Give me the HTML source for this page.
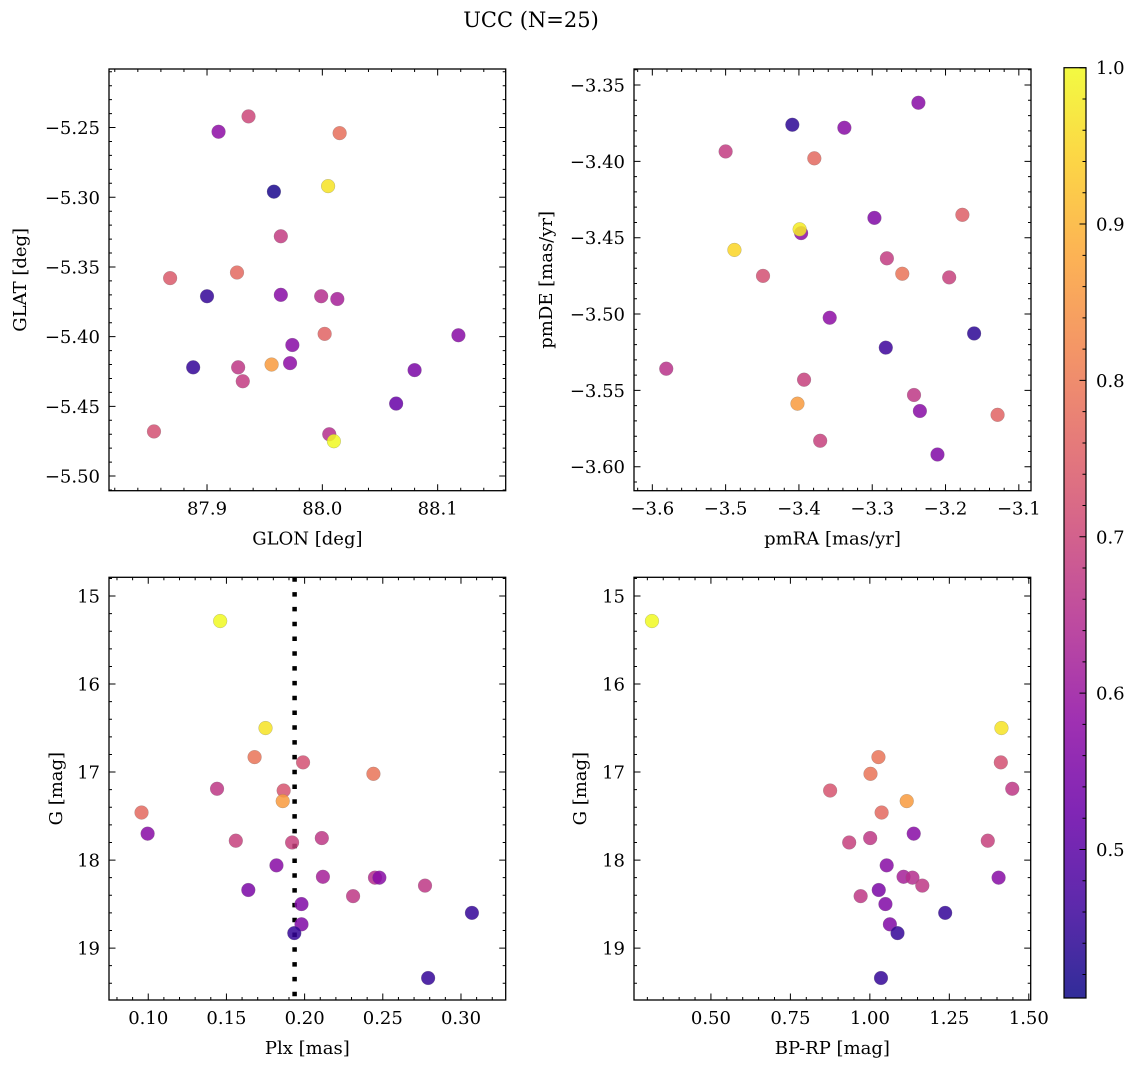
<!DOCTYPE html>
<html><head><meta charset="utf-8"><title>UCC (N=25)</title>
<style>
html,body{margin:0;padding:0;background:#fff;}
svg{display:block;font-family:"DejaVu Serif","Liberation Serif",serif;}
</style></head>
<body>
<svg id="fig" width="1136" height="1067" viewBox="0 0 1136 1067" xmlns="http://www.w3.org/2000/svg">
<text x="531" y="27" text-anchor="middle" font-size="21" fill="#000">UCC (N=25)</text>
</svg>
<script>
// ---- Panel 1: GLON vs GLAT ----
const glon = [87.936,87.910,88.015,88.005,87.958,87.964,87.868,87.926,87.900,87.964,87.999,88.013,88.002,88.118,87.974,87.888,87.956,87.972,87.927,87.931,88.080,88.064,87.854,88.006,88.010];
const glat = [-5.242,-5.253,-5.254,-5.292,-5.296,-5.328,-5.358,-5.354,-5.371,-5.370,-5.371,-5.373,-5.398,-5.399,-5.406,-5.422,-5.420,-5.419,-5.422,-5.432,-5.424,-5.448,-5.468,-5.470,-5.475];
const prob1 = [0.70,0.58,0.78,0.97,0.42,0.68,0.74,0.77,0.45,0.57,0.65,0.62,0.76,0.57,0.57,0.45,0.86,0.58,0.67,0.68,0.55,0.52,0.72,0.65,1.00];
// ---- Panel 2: pmRA vs pmDE ----
const pmra = [-3.237,-3.409,-3.338,-3.500,-3.379,-3.297,-3.177,-3.397,-3.399,-3.488,-3.449,-3.280,-3.259,-3.195,-3.358,-3.161,-3.2815,-3.581,-3.393,-3.402,-3.243,-3.235,-3.129,-3.371,-3.211];
const pmde = [-3.3616,-3.376,-3.378,-3.3935,-3.398,-3.437,-3.435,-3.447,-3.4445,-3.458,-3.475,-3.4635,-3.4736,-3.476,-3.5024,-3.5127,-3.522,-3.5358,-3.543,-3.5587,-3.553,-3.5635,-3.566,-3.583,-3.592];
const prob2 = [0.57,0.44,0.57,0.68,0.77,0.56,0.75,0.58,0.98,0.95,0.72,0.68,0.79,0.69,0.58,0.44,0.46,0.66,0.69,0.86,0.67,0.57,0.76,0.69,0.56];
// ---- Panels 3 & 4: Plx / BP-RP vs G ----
const plx  = [0.146,0.175,0.168,0.199,0.244,0.144,0.1866,0.186,0.0957,0.0996,0.156,0.192,0.211,0.182,0.2117,0.245,0.2478,0.277,0.164,0.231,0.198,0.307,0.198,0.1934,0.279];
const bprp = [0.3145,1.414,1.027,1.412,1.002,1.448,0.875,1.116,1.037,1.138,1.371,0.935,1.001,1.053,1.106,1.134,1.405,1.165,1.028,0.971,1.049,1.237,1.063,1.087,1.035];
const gmag = [15.284,16.50,16.83,16.89,17.02,17.19,17.21,17.33,17.46,17.70,17.78,17.80,17.75,18.06,18.19,18.20,18.20,18.29,18.34,18.41,18.50,18.60,18.73,18.83,19.34];
const prob3 = [1.00,0.97,0.79,0.72,0.79,0.67,0.73,0.86,0.77,0.57,0.69,0.69,0.67,0.57,0.62,0.65,0.57,0.67,0.55,0.67,0.56,0.45,0.56,0.45,0.45];
const plxLine = 0.1936;
const cbTicks = [0.5,0.6,0.7,0.8,0.9,1.0];
const cMin = 0.405, cMax = 1.0;

const NS = "http://www.w3.org/2000/svg";
const svg = document.getElementById('fig');
const FS = 18;
function el(tag, attrs, parent){
  const e = document.createElementNS(NS, tag);
  for (const k in attrs) e.setAttribute(k, attrs[k]);
  (parent||svg).appendChild(e);
  return e;
}
const plasma = [[13,8,135],[65,4,157],[106,0,168],[143,13,164],[177,42,144],[204,71,120],[225,100,98],[242,132,75],[252,166,54],[252,206,37],[240,249,33]];
function cmap(v){
  let t = (v - cMin)/(cMax - cMin); t = Math.max(0, Math.min(1, t));
  const f = t*10, i = Math.min(9, Math.floor(f)), r = f - i;
  const a = plasma[i], b = plasma[i+1];
  return 'rgb(' + [0,1,2].map(k=>Math.round(a[k]+(b[k]-a[k])*r)).join(',') + ')';
}
function fmt(v, d){ const s = Math.abs(v).toFixed(d); return (v < -1e-9 ? '\u2212' : '') + s; }
function ticks(a0, b0, step){
  const lo = Math.min(a0,b0), hi = Math.max(a0,b0);
  const out = []; const a = Math.ceil(lo/step - 1e-6), b = Math.floor(hi/step + 1e-6);
  for (let i = a; i <= b; i++) out.push(+(i*step).toFixed(6));
  return out;
}

function panel(cfg){
  const g = el('g', {});
  
  
  const [L, T, R, B] = cfg.box;
  const sx = v => L + (v - cfg.xlim[0])/(cfg.xlim[1]-cfg.xlim[0])*(R-L);
  const sy = v => B - (v - cfg.ylim[0])/(cfg.ylim[1]-cfg.ylim[0])*(B-T);
  if (cfg.vline !== undefined){
    const ln = el('line', {x1:sx(cfg.vline), x2:sx(cfg.vline), y1:T, y2:B, stroke:'#000', 'stroke-width':4.5, 'stroke-dasharray':'4.5 10.3'}, g);
    
    
  }
  for (let i = 0; i < cfg.xs.length; i++){
    const c = el('circle', {cx:sx(cfg.xs[i]), cy:sy(cfg.ys[i]), r:6.9, fill:cmap(cfg.cs[i]), 'fill-opacity':0.85, stroke:'#777', 'stroke-width':0.4, 'stroke-opacity':0.6}, g);
    
    
  }
  const fr = el('rect', {x:L, y:T, width:R-L, height:B-T, fill:'none', stroke:'#000', 'stroke-width':1.3}, g);
  
  
  let d = '';
  ticks(cfg.xlim[0], cfg.xlim[1], cfg.xminor).forEach(v=>{const x=sx(v); d+=`M${x},${B}v-3M${x},${T}v3`;});
  ticks(cfg.ylim[0], cfg.ylim[1], cfg.yminor).forEach(v=>{const y=sy(v); d+=`M${L},${y}h3M${R},${y}h-3`;});
  const xt = ticks(cfg.xlim[0], cfg.xlim[1], cfg.xmajor);
  const yt = ticks(cfg.ylim[0], cfg.ylim[1], cfg.ymajor);
  xt.forEach(v=>{const x=sx(v); d+=`M${x},${B}v-6.5M${x},${T}v6.5`;});
  yt.forEach(v=>{const y=sy(v); d+=`M${L},${y}h6.5M${R},${y}h-6.5`;});
  el('path', {d:d, stroke:'#000', 'stroke-width':1, fill:'none'}, g);
  xt.forEach(v=>{
    const t = el('text', {x:sx(v), y:B+24, 'text-anchor':'middle', 'font-size':FS, fill:'#000'}, g);
    t.textContent = fmt(v, cfg.xdec);
    
    
  });
  yt.forEach(v=>{
    const t = el('text', {x:L-9, y:sy(v)+6.5, 'text-anchor':'end', 'font-size':FS, fill:'#000'}, g);
    t.textContent = fmt(v, cfg.ydec);
    
    
  });
  const xl = el('text', {x:(L+R)/2, y:B+54, 'text-anchor':'middle', 'font-size':FS, fill:'#000'}, g);
  xl.textContent = cfg.xlabel;
  
  
  const yl = el('text', {x:0, y:0, 'text-anchor':'middle', 'font-size':FS, fill:'#000', transform:`translate(${cfg.ylx},${(T+B)/2}) rotate(-90)`}, g);
  yl.textContent = cfg.ylabel;
  
  
}

panel({name:'glon-glat-panel', box:[109,69,505.7,490.7], xlim:[87.815,88.159], ylim:[-5.5105,-5.208],
  xmajor:0.1, xminor:0.02, ymajor:0.05, yminor:0.01, xdec:1, ydec:2, xs:glon, ys:glat, cs:prob1,
  xlabel:'GLON [deg]', ylabel:'GLAT [deg]', ylx:26});
panel({name:'pm-panel', box:[634,69,1031,490.7], xlim:[-3.625,-3.0834], ylim:[-3.6157,-3.3395],
  xmajor:0.1, xminor:0.02, ymajor:0.05, yminor:0.01, xdec:1, ydec:2, xs:pmra, ys:pmde, cs:prob2,
  xlabel:'pmRA [mas/yr]', ylabel:'pmDE [mas/yr]', ylx:552});
panel({name:'plx-g-panel', box:[109,577.3,505.7,1000], xlim:[0.0749,0.3286], ylim:[19.59,14.787],
  xmajor:0.05, xminor:0.01, ymajor:1, yminor:0.2, xdec:2, ydec:0, xs:plx, ys:gmag, cs:prob3,
  xlabel:'Plx [mas]', ylabel:'G [mag]', ylx:62, vline:plxLine});
panel({name:'cmd-panel', box:[634,577.3,1030.7,1000], xlim:[0.258,1.506], ylim:[19.59,14.787],
  xmajor:0.25, xminor:0.05, ymajor:1, yminor:0.2, xdec:2, ydec:0, xs:bprp, ys:gmag, cs:prob3,
  xlabel:'BP-RP [mag]', ylabel:'G [mag]', ylx:586});

// ---- colorbar ----
(function(){
  const L=1064, R=1086, T=67.7, B=998;
  const cg = el('g', {});
  
  
  const defs = el('defs', {}, cg);
  const grad = el('linearGradient', {id:'cbg', x1:0, y1:1, x2:0, y2:0}, defs);
  for (let k = 0; k <= 20; k++){
    const v = cMin + (cMax-cMin)*k/20;
    el('stop', {offset:(k/20), 'stop-color':cmap(v)}, grad);
  }
  el('rect', {x:L, y:T, width:R-L, height:B-T, fill:'url(#cbg)', 'fill-opacity':0.85}, cg);
  el('rect', {x:L, y:T, width:R-L, height:B-T, fill:'none', stroke:'#000', 'stroke-width':1.2}, cg);
  const sy = v => B - (v-cMin)/(cMax-cMin)*(B-T);
  let d = '';
  ticks(cMin, cMax, 0.02).forEach(v=>{d+=`M${R},${sy(v)}h-3.5`;});
  cbTicks.forEach(v=>{d+=`M${R},${sy(v)}h-6.5`;});
  el('path', {d:d, stroke:'#000', 'stroke-width':1}, cg);
  cbTicks.forEach(v=>{
    const t = el('text', {x:R+10, y:sy(v)+6.5, 'font-size':FS, fill:'#000'}, cg);
    t.textContent = v.toFixed(1);
    
    
  });
})();
</script>
</body></html>
